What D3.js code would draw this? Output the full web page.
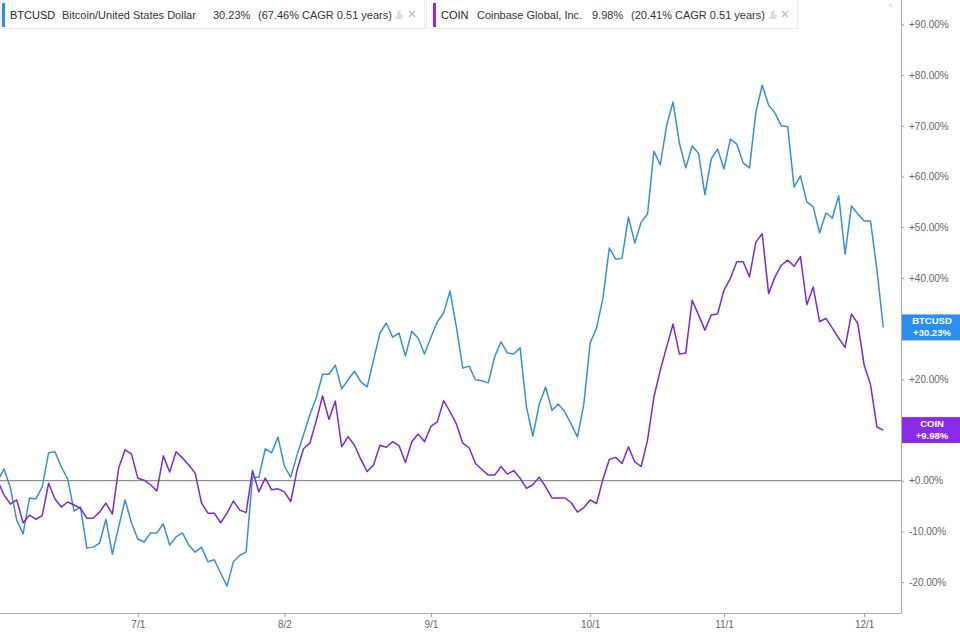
<!DOCTYPE html>
<html>
<head>
<meta charset="utf-8">
<script src="https://cdn.jsdelivr.net/npm/d3@7"></script>
<style>
  html, body { margin: 0; padding: 0; background: #fff; }
  svg { display: block; font-family: "Liberation Sans", Arial, sans-serif; }
</style>
</head>
<body>
<svg id="chart" width="960" height="635"></svg>
<script>
// ---- data (percent change from start, one value per session, index -1 .. 138) ----
const seriesNames = ["BTCUSD", "COIN"];
const seriesTitles = ["Bitcoin/United States Dollar", "Coinbase Global, Inc."];
const seriesReturns = ["30.23%", "9.98%"];
const seriesCagr = ["(67.46% CAGR 0.51 years)", "(20.41% CAGR 0.51 years)"];
const seriesEndLabels = ["+30.23%", "+9.98%"];

const btcValues = [0,
  2.3, -1.4, -7.8, -10.5, -3.4, -3.6, -1.2, 5.5, 5.7, 2.7,
  0.3, -6.0, -5.2, -13.3, -13.1, -12.3, -7.6, -14.5, -9.1, -3.8,
  -8.3, -11.5, -12.1, -10.3, -10.3, -8.5, -12.7, -11.1, -10.3, -12.7,
  -14.1, -13.1, -16.0, -15.6, -18.2, -20.8, -16.0, -14.7, -14.1, 0.7,
  0.7, 6.3, 5.5, 8.6, 2.9, 0.7, 5.1, 9.0, 13.0, 16.3,
  21.0, 21.0, 22.8, 18.1, 19.9, 21.6, 19.5, 18.5, 23.8, 29.1,
  31.1, 28.3, 29.1, 24.6, 29.5, 28.1, 25.0, 28.3, 31.3, 33.1,
  37.4, 30.3, 22.2, 22.6, 19.9, 19.7, 19.3, 24.4, 27.4, 25.2,
  25.0, 26.2, 14.5, 8.8, 15.1, 18.5, 13.9, 15.1, 13.6, 11.2,
  8.6, 15.1, 27.2, 30.1, 36.0, 45.9, 43.7, 43.9, 52.0, 46.9,
  51.0, 52.6, 65.0, 62.3, 70.1, 74.7, 66.6, 61.7, 66.0, 64.6,
  56.4, 63.5, 65.4, 61.5, 67.4, 66.4, 62.7, 61.7, 72.7, 78.0,
  74.1, 72.5, 70.0, 69.8, 57.9, 60.1, 55.0, 54.0, 48.9, 52.8,
  51.8, 56.2, 44.7, 54.2, 52.6, 51.2, 51.2, 41.6, 30.23];

const coinValues = [0,
  -2.8, -4.6, -3.8, -8.3, -6.8, -7.6, -6.9, -0.5, -3.6, -5.2,
  -4.2, -4.8, -5.4, -7.4, -7.4, -6.2, -4.4, -6.6, 2.5, 6.1,
  5.3, 0.5, 0.1, -0.8, -2.0, 4.9, 1.7, 5.7, 4.5, 3.1,
  1.5, -4.4, -6.4, -6.4, -8.3, -6.4, -4.0, -5.8, -6.3, 2.0,
  -2.2, 0.5, -1.8, -1.6, -2.2, -4.1, 2.1, 6.3, 7.4, 11.8,
  16.7, 12.1, 15.7, 6.7, 8.7, 7.0, 4.2, 1.8, 3.1, 7.0,
  6.6, 7.7, 6.9, 3.6, 7.7, 9.2, 7.7, 10.7, 11.6, 15.8,
  13.6, 11.2, 7.4, 6.5, 3.4, 2.2, 1.1, 1.1, 2.8, 1.3,
  2.0, 0.5, -1.5, -0.8, 0.7, -1.2, -3.4, -3.4, -3.4, -4.3,
  -6.2, -5.3, -3.8, -4.5, 0.3, 4.2, 4.6, 3.4, 6.7, 3.7,
  2.8, 8.0, 16.5, 21.8, 26.4, 30.9, 25.0, 25.2, 35.6, 32.7,
  29.7, 32.7, 32.9, 37.6, 39.9, 43.2, 43.2, 40.2, 47.1, 48.7,
  36.9, 40.2, 42.5, 43.5, 42.3, 44.2, 34.7, 38.2, 31.4, 32.0,
  30.1, 28.1, 26.3, 32.9, 31.0, 22.8, 18.9, 10.6, 9.98];

const xTickIndex = [21, 44, 67, 92, 113, 135];
const xTickLabels = ["7/1", "8/2", "9/1", "10/1", "11/1", "12/1"];
// +10% and +30% are hidden behind the end-value boxes in the reference
const yTickValues = [-20, -10, 0, 20, 40, 50, 60, 70, 80, 90];

// ---- styling / layout ----
const lineColors = ["#3a8fd3", "#7d2bc8"];
const boxColors = ["#2a8ff0", "#8a2be8"];
const axisX = 901, axisBottom = 613;

const svg = d3.select("#chart");

const x = d3.scaleLinear().domain([-1, btcValues.length - 2]).range([-2.37, 883.3]);
const y = d3.scaleLinear().domain([-20, 90]).range([582.1, 24.4]);

// zero line
svg.append("line")
  .attr("x1", 0).attr("x2", axisX)
  .attr("y1", y(0)).attr("y2", y(0))
  .attr("stroke", "#777").attr("stroke-width", 1);

// lines
const allSeries = [btcValues, coinValues];
const lineGen = d3.line().x((d, i) => x(i - 1)).y(d => y(d));
allSeries.forEach((vals, si) => {
  svg.append("path")
    .datum(vals)
    .attr("fill", "none")
    .attr("stroke", lineColors[si])
    .attr("stroke-width", 1.5)
    .attr("stroke-linejoin", "round")
    .attr("d", lineGen);
});

// right axis
const yAxis = d3.axisRight(y)
  .tickValues(yTickValues)
  .tickSize(3)
  .tickPadding(5)
  .tickFormat(d => (d >= 0 ? "+" : "") + d.toFixed(2) + "%");
const gy = svg.append("g").attr("transform", `translate(${axisX},0)`).call(yAxis);
gy.select(".domain").remove();
gy.selectAll(".tick line").attr("stroke", "#999");
gy.selectAll(".tick text").attr("fill", "#666").attr("font-size", 10)
  .attr("font-family", "Liberation Sans, Arial, sans-serif");

// bottom axis
const xAxis = d3.axisBottom(x)
  .tickValues(xTickIndex)
  .tickSize(4)
  .tickPadding(4)
  .tickFormat((d, i) => xTickLabels[i]);
const gx = svg.append("g").attr("transform", `translate(0,${axisBottom})`).call(xAxis);
gx.select(".domain").remove();
gx.selectAll(".tick line").attr("stroke", "#999");
gx.selectAll(".tick text").attr("fill", "#666").attr("font-size", 10)
  .attr("font-family", "Liberation Sans, Arial, sans-serif");

// axis frame lines
svg.append("line").attr("x1", axisX + 0.5).attr("x2", axisX + 0.5)
  .attr("y1", 0).attr("y2", axisBottom + 0.5)
  .attr("stroke", "#aaa").attr("stroke-width", 1);
svg.append("line").attr("x1", 0).attr("x2", axisX + 0.5)
  .attr("y1", axisBottom + 0.5).attr("y2", axisBottom + 0.5)
  .attr("stroke", "#aaa").attr("stroke-width", 1);

// end labels
allSeries.forEach((vals, si) => {
  const yy = y(vals[vals.length - 1]);
  const g = svg.append("g");
  g.append("rect").attr("x", axisX + 1).attr("y", yy - 13)
    .attr("width", 960 - axisX - 1).attr("height", 26)
    .attr("fill", boxColors[si]);
  g.append("text").attr("x", 932).attr("y", yy - 3)
    .attr("text-anchor", "middle").attr("fill", "#fff")
    .attr("font-size", 9.5).attr("font-weight", "bold")
    .text(seriesNames[si]);
  g.append("text").attr("x", 932).attr("y", yy + 8.5)
    .attr("text-anchor", "middle").attr("fill", "#fff")
    .attr("font-size", 9.5).attr("font-weight", "bold")
    .text(seriesEndLabels[si]);
});

// legend boxes
const legendBoxes = [
  { x0: 0, x1: 424, bar: 2, tick: 10, title: 62, ret: 213, cagr: 258, icon: 394, close: 409 },
  { x0: 426, x1: 797, bar: 433, tick: 441, title: 477, ret: 592, cagr: 631, icon: 768, close: 782 }
];
legendBoxes.forEach((b, si) => {
  const g = svg.append("g");
  g.append("rect").attr("x", b.x0 + 0.5).attr("y", -1).attr("width", b.x1 - b.x0)
    .attr("height", 29.5).attr("fill", "#fff").attr("stroke", "#ececec");
  g.append("rect").attr("x", b.bar).attr("y", 3).attr("width", 3).attr("height", 24)
    .attr("fill", boxColors[si]);
  const t = (xx, txt, col) => g.append("text").attr("x", xx).attr("y", 19)
    .attr("font-size", 11).attr("fill", col || "#333").text(txt);
  t(b.tick, seriesNames[si], "#222");
  t(b.title, seriesTitles[si]);
  t(b.ret, seriesReturns[si]);
  t(b.cagr, seriesCagr[si]);
  // small pin icon
  g.append("path")
    .attr("d", `M${b.icon},19 l3,-3 l0,-4 l3,-2 l1,1 l-1,3 l3,1 l-1,4 z`)
    .attr("fill", "#ddd");
  // close cross
  g.append("path")
    .attr("d", `M${b.close},11 l6,6 M${b.close + 6},11 l-6,6`)
    .attr("stroke", "#bbb").attr("stroke-width", 1.2);
});

// tiny mark top-right
svg.append("text").attr("x", 889).attr("y", 7).attr("font-size", 6).attr("fill", "#bbb").text("lı");
</script>
</body>
</html>
